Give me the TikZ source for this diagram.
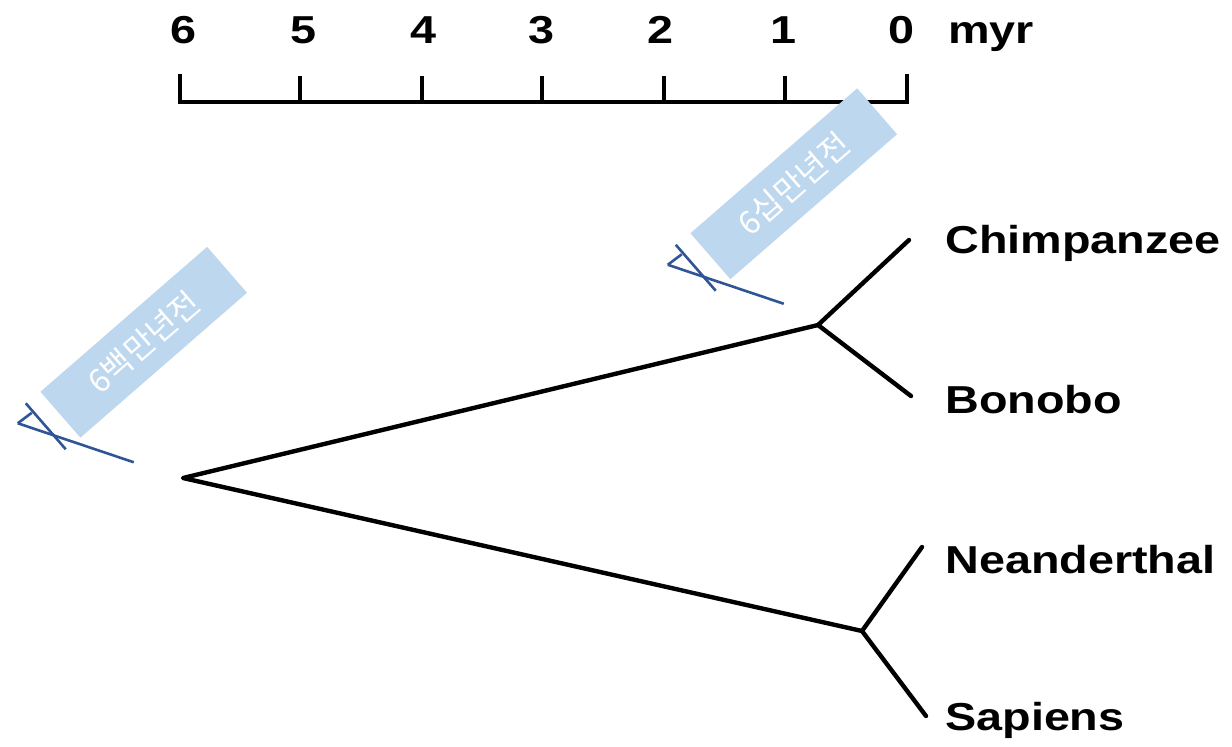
\documentclass[tikz,border=0pt]{standalone}
\usepackage{fontspec}
\newfontfamily\labelfont{Liberation Sans}[FakeStretch=1.2]
\newfontfamily\krfont{Noto Sans CJK KR}
\usepackage{tikz}
\pgfdeclarelayer{background}
\pgfdeclarelayer{foreground}
\pgfsetlayers{background,main,foreground}
\definecolor{notefill}{HTML}{BDD7EE}
\definecolor{noteline}{HTML}{2F5597}

\begin{document}
\begin{tikzpicture}[x=0.025cm,y=-0.025cm,
  branch/.style={line width=0.11cm,line cap=round,line join=round},
  taxon/.style={anchor=base west,inner sep=0pt,font=\labelfont\bfseries\fontsize{27.7}{30}\selectfont},
  scalenum/.style={anchor=base,inner sep=0pt,font=\labelfont\bfseries\fontsize{27.7}{30}\selectfont},
  note/.style={fill=notefill,text=white,minimum width=5.52cm,minimum height=1.52cm,inner sep=0pt,rotate=41,font=\krfont\fontsize{22.8}{26}\selectfont},
  pointer/.style={draw=noteline,line width=0.065cm}]
\useasboundingbox (0,0) rectangle (1232,746);
% time scale
\draw[branch,line cap=butt,line join=miter] (180,74) -- (180,102) -- (907,102) -- (907,74);
\foreach \x in {300,422,542,664,785}
  \draw[line width=0.09cm] (\x,102) -- (\x,76);
\foreach \x/\lab in {183/6,303/5,423/4,541/3,660/2,783/1,901/0}
  \node[scalenum] at (\x,43) {\lab};
\node[taxon] (unit) at (948,43) {myr};
% tree
\coordinate (root) at (183,478);
\coordinate (apes) at (818,325);
\coordinate (humans) at (862,631);
\coordinate (chimptip) at (909,240);
\coordinate (bonobotip) at (911,396);
\coordinate (neandtip) at (922,547);
\coordinate (sapienstip) at (926,716);
\draw[branch] (apes) -- (root) -- (humans);
\draw[branch] (chimptip) -- (apes) -- (bonobotip);
\draw[branch] (neandtip) -- (humans) -- (sapienstip);
\node[taxon] (chimp) at (945,253) {Chimpanzee};
\node[taxon] (bonobo) at (945,413) {Bonobo};
\node[taxon] (neand) at (945,573) {Neanderthal};
\node[taxon] (sapiens) at (945,730) {Sapiens};
% notes
\begin{pgfonlayer}{foreground}
\foreach \n/\txt/\px/\py in {old/6백만년전/143.75/342.25,young/6십만년전/793.75/183.75} {
  \node[note] (\n) at (\px,\py) {\txt};
  \coordinate (\n-t) at ([shift={(-126,81)}]\n.center);
  \coordinate (\n-e) at ([shift={(-10,120)}]\n.center);
  \coordinate (\n-s) at ([shift={(-118,61)}]\n.center);
  \coordinate (\n-f) at ([shift={(-78,107)}]\n.center);
  \coordinate (\n-k) at ([shift={(-112,70.5)}]\n.center);
  \draw[pointer] (\n-t) -- (\n-e);
  \draw[pointer] (\n-s) -- (\n-f);
  \draw[pointer] (\n-t) -- (\n-k);
}
\end{pgfonlayer}
\end{tikzpicture}
\end{document}
